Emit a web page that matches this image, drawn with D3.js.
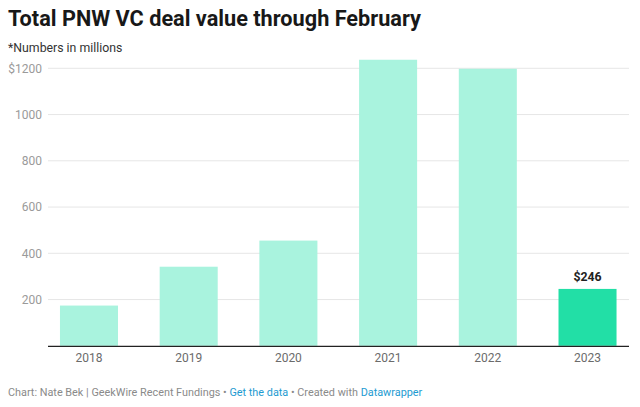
<!DOCTYPE html>
<html><head><meta charset="utf-8">
<script src="https://cdn.jsdelivr.net/npm/d3@7"></script>
<style>
body{margin:0;background:#fff;font-family:Roboto,"Noto Sans",sans-serif;}
</style></head>
<body><svg id="c" width="640" height="407"></svg>
<script>
const years = ["2018","2019","2020","2021","2022","2023"];
const values = [174, 342, 455, 1237, 1198, 246];
const yTicks = [200, 400, 600, 800, 1000, 1200];
const highlightYear = "2023";
const highlightLabel = "$246";

const svg = d3.select("#c");
svg.append("text").attr("x",8).attr("y",26).attr("font-size",21.7).attr("font-weight",700)
  .attr("fill","#181818").text("Total PNW VC deal value through February");
svg.append("text").attr("x",8).attr("y",52).attr("font-size",12.3).attr("fill","#333")
  .text("*Numbers in millions");

const y = d3.scaleLinear().domain([0,1200]).range([345.8,68.3]);
const x = d3.scaleBand().domain(years).range([48,628.5]).paddingInner(0.418).paddingOuter(0.12);

const g = svg.append("g");
g.selectAll("line.grid").data(yTicks).join("line").attr("class","grid")
  .attr("x1",48).attr("x2",629).attr("y1",d=>y(d)).attr("y2",d=>y(d))
  .attr("stroke","#e6e6e6").attr("stroke-width",1);
g.selectAll("text.yt").data(yTicks).join("text").attr("class","yt")
  .attr("x",42).attr("y",d=>y(d)+4.3).attr("text-anchor","end")
  .attr("font-size",12).attr("fill","#9a9a9a")
  .text(d=>d===1200?"$"+d:d);

g.selectAll("rect").data(years).join("rect")
  .attr("x",d=>x(d)).attr("width",x.bandwidth())
  .attr("y",(d,i)=>y(values[i])).attr("height",(d,i)=>y(0)-y(values[i]))
  .attr("fill",d=>d===highlightYear?"#22dfa6":"#a9f3de");

g.append("line").attr("x1",48).attr("x2",629).attr("y1",y(0)+0.5).attr("y2",y(0)+0.5)
  .attr("stroke","#222").attr("stroke-width",1.3);

g.selectAll("text.xt").data(years).join("text").attr("class","xt")
  .attr("x",d=>x(d)+x.bandwidth()/2).attr("y",362).attr("text-anchor","middle")
  .attr("font-size",12).attr("fill","#6b6b6b").text(d=>d);

const hi = years.indexOf(highlightYear);
g.append("text").attr("x",x(highlightYear)+x.bandwidth()/2).attr("y",y(values[hi])-8)
  .attr("text-anchor","middle").attr("font-size",12.3).attr("font-weight",700)
  .attr("fill","#222").text(highlightLabel);

const f = svg.append("text").attr("x",8).attr("y",396).attr("font-size",10.85).attr("fill","#8a8a8a");
f.append("tspan").text("Chart: Nate Bek | GeekWire Recent Fundings • ");
f.append("tspan").attr("fill","#1d9bd1").text("Get the data");
f.append("tspan").text(" • Created with ");
f.append("tspan").attr("fill","#1d9bd1").text("Datawrapper");
</script></body></html>
